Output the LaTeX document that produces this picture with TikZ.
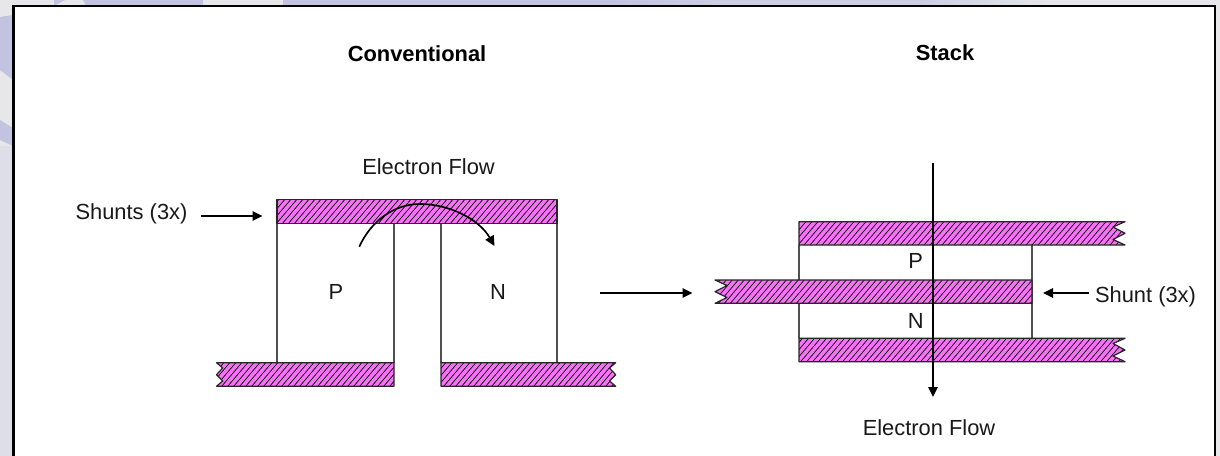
\documentclass[tikz,border=0pt]{standalone}
\usepackage{fontspec}
\setmainfont{Liberation Sans}
\usetikzlibrary{arrows.meta,shadings}
\definecolor{lav}{HTML}{C1C3E1}
\definecolor{bgrey}{HTML}{E7E7E9}
\definecolor{bblue}{HTML}{DEDEE9}
\definecolor{shuntpink}{HTML}{F872F8}
\definecolor{wallgrey}{HTML}{505050}
\tikzset{
  baroutline/.style={draw=black!85,line width=.9pt,line join=round},
  hatchline/.style={draw=black,line width=.52pt},
  wall/.style={draw=wallgrey,line width=1.05pt},
  flow/.style={draw=black,line width=1.25pt,-{Triangle[length=7.5pt,width=7pt]}},
  label/.style={font=\fontsize{16.4}{19}\selectfont,inner sep=0pt,text=black!90},
  title/.style={font=\fontsize{16.4}{19}\selectfont\bfseries,inner sep=0pt,text=black},
}
\newcommand{\hatchbar}[1]{%
  \fill[shuntpink] #1;
  \begin{scope}
    \clip #1;
    \foreach \hx in {0,6,...,1134} {\draw[hatchline] (\hx,400) -- ({\hx+230},130);}
  \end{scope}
  \path[baroutline] #1;
}
\begin{document}
\begin{tikzpicture}[x=0.75pt,y=-0.75pt]
\useasboundingbox (0,0) rectangle (1220,456);
% backdrop
\fill[bgrey] (0,0) rectangle (1220,456);
\fill[bblue] (0,146) rectangle (14,456);
\fill[lav] (54,0) -- (65,0) -- (54,6) -- cycle;
\fill[lav] (83,0) -- (86,6) -- (203,6) -- (203,0) -- cycle;
\fill[lav] (283,0) rectangle (600,6);
\fill[left color=lav,right color=lav!70!bgrey] (600,0) rectangle (715,6);
\fill[lav!70!bgrey] (715,0) rectangle (921,6);
\fill[left color=lav!70!bgrey,right color=bgrey] (921,0) rectangle (1050,6);
\fill[lav] (0,17) -- (13,15) -- (13,80) -- (0,70) -- cycle;
\fill[lav] (0,120) -- (13,128) -- (13,146) -- (0,140) -- cycle;
% panel
\fill[white] (13,6) rectangle (1215,460);
\draw[black,line width=1.9pt] (13.5,470) -- (13.5,6) -- (1215,6) -- (1215,470);

% conventional walls
\coordinate (pa) at (277,223.3); \coordinate (pb) at (277,362.7);
\coordinate (pc) at (394,223.3);   \coordinate (pd) at (394,362.7);
\coordinate (na) at (441,223.3); \coordinate (nb) at (441,362.7);
\coordinate (nc) at (557,223.3);   \coordinate (nd) at (557,362.7);
\draw[wall] (pa) -- (pb) (pc) -- (pd) (na) -- (nb) (nc) -- (nd);
% conventional shunts
\hatchbar{(277,199.5) -- (557,199.5) -- (557,223.3) -- (277,223.3) -- cycle}
\hatchbar{(216.5,362.7) -- (394,362.7) -- (394,386.3) -- (216.5,386.3) -- (222.7,381) -- (216.5,374.7) -- (222.7,368) -- cycle}
\hatchbar{(441,362.7) -- (615.7,362.7) -- (609.5,368) -- (615.7,374.7) -- (609.5,381) -- (615.7,386.3) -- (441,386.3) -- cycle}

% stack walls
\coordinate (sa) at (799,245); \coordinate (sb) at (799,338.3);
\coordinate (sc) at (1032,245); \coordinate (sd) at (1032,338.3);
\draw[wall] (sa) -- (sb) (sc) -- (sd);
% stack shunts
\hatchbar{(799,221.7) -- (1125,221.7) -- (1113,227) -- (1125,233.3) -- (1113,239.5) -- (1125,245) -- (799,245) -- cycle}
\hatchbar{(715,280) -- (1032,280) -- (1032,303.3) -- (715,303.3) -- (727,297.5) -- (715,291.7) -- (727,285.5) -- cycle}
\hatchbar{(799,338.3) -- (1125,338.3) -- (1113,343.5) -- (1125,350) -- (1113,356) -- (1125,361.7) -- (799,361.7) -- cycle}

% labels
\node[title] (tconv) at (417,53.7) {Conventional};
\node[title] (tstack) at (945,53) {Stack};
\node[label] (eflow1) at (428.5,166.7) {Electron Flow};
\node[label] (shunts) at (131.5,214) {Shunts (3x)};
\node[label] (lp) at (336,292) {P};
\node[label] (ln) at (498,292) {N};
\node[label] (sp) at (915.7,261) {P};
\node[label] (sn) at (915.7,320.5) {N};
\node[label] (eflow2) at (929,428) {Electron Flow};
\node[label] (shunt) at (1145.5,297.3) {Shunt (3x)};

% connectors
\coordinate (a1) at (200.5,216); \coordinate (a2) at (262.5,216);
\draw[flow] (a1) -- (a2);
\coordinate (b1) at (600,293); \coordinate (b2) at (692.5,293);
\draw[flow] (b1) -- (b2);
\coordinate (c1) at (1089,293); \coordinate (c2) at (1043,293);
\draw[flow] (c1) -- (c2);
\coordinate (d1) at (933,163); \coordinate (d2) at (933,397);
\draw[flow] (d1) -- (d2);
\coordinate (e1) at (359.3,246.7); \coordinate (e2) at (420,204); \coordinate (e3) at (494.5,246);
\draw[flow] (e1) .. controls (371,221) and (394,204) .. (e2)
  .. controls (449,204) and (479,219) .. (e3);
\end{tikzpicture}
\end{document}
